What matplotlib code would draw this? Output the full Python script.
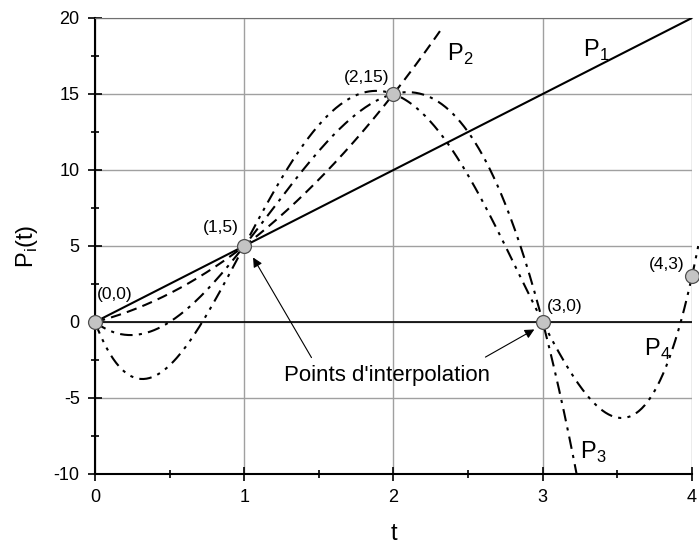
import numpy as np
import matplotlib.pyplot as plt

plt.rcParams['font.family'] = ['Liberation Sans', 'DejaVu Sans']
plt.rcParams['axes.unicode_minus'] = False
plt.rcParams['mathtext.fontset'] = 'custom'
plt.rcParams['mathtext.rm'] = 'Liberation Sans'

# interpolation nodes
t_pts = [0, 1, 2, 3, 4]
p_pts = [0, 5, 15, 0, 3]
node_labels = ['(0,0)', '(1,5)', '(2,15)', '(3,0)', '(4,3)']
# drawn range of each polynomial P1..P4
t_ends = [4.0, 2.32, 3.3, 4.05]
styles = ['-', (0, (5, 3)), (0, (6, 3, 1.5, 3)), (0, (6, 3, 1.5, 3, 1.5, 3))]

fig = plt.figure(figsize=(6.99, 5.45), dpi=100)
ax = fig.add_axes([0.1359, 0.1303, 0.854, 0.8367])

for k in range(1, 5):
    coef = np.polyfit(t_pts[:k + 1], p_pts[:k + 1], k)
    tt = np.linspace(0, t_ends[k - 1], 400)
    ax.plot(tt, np.polyval(coef, tt), color='black', lw=1.5,
            linestyle=styles[k - 1], clip_on=(k != 4), zorder=3)

ax.axhline(0, color='black', lw=1.2, zorder=2)
ax.plot(t_pts, p_pts, 'o', ms=10, mfc='#c4c4c4', mec='#505050', mew=0.9,
        clip_on=False, zorder=5)

# node labels
lab_pos = [(0.134, 1.8), (0.845, 6.2), (1.82, 16.1), (3.15, 1.05), (3.83, 3.75)]
for (x, y), s in zip(lab_pos, node_labels):
    ax.text(x, y, s, fontsize=12.5, ha='center', va='center')

# polynomial names
ax.text(2.36, 17.6, r'P$_{\mathregular{2}}$', fontsize=17, ha='left', va='center')
ax.text(3.27, 17.9, r'P$_{\mathregular{1}}$', fontsize=17, ha='left', va='center')
ax.text(3.25, -8.6, r'P$_{\mathregular{3}}$', fontsize=17, ha='left', va='center')
ax.text(3.68, -1.8, r'P$_{\mathregular{4}}$', fontsize=17, ha='left', va='center')

ax.text(1.96, -3.5, "Points d'interpolation", fontsize=16, ha='center', va='center')
ax.annotate('', xy=(1.05, 4.4), xytext=(1.46, -2.5),
            arrowprops=dict(arrowstyle='-|>', color='black', lw=0.8,
                            mutation_scale=14))
ax.annotate('', xy=(2.96, -0.4), xytext=(2.6, -2.4),
            arrowprops=dict(arrowstyle='-|>', color='black', lw=0.8,
                            mutation_scale=14))

ax.set_xlim(0, 4)
ax.set_ylim(-10, 20)
ax.set_xticks([0, 1, 2, 3, 4])
ax.set_xticks([0.5, 1.5, 2.5, 3.5], minor=True)
ax.set_yticks([-10, -5, 0, 5, 10, 15, 20])
ax.set_yticks([-7.5, -2.5, 2.5, 7.5, 12.5, 17.5], minor=True)
ax.tick_params(which='major', direction='inout', length=10, width=1.2,
               labelsize=13, pad=6)
ax.tick_params(which='minor', direction='inout', length=6, width=1.2)
ax.grid(True, which='major', color='#a0a0a0', lw=1)

ax.spines['right'].set_visible(False)
ax.spines['top'].set_color('#707070')
ax.spines['left'].set_linewidth(1.5)
ax.spines['bottom'].set_linewidth(1.5)

ax.set_xlabel('t', fontsize=17, labelpad=12)
ax.set_ylabel(r'P$_{\mathregular{i}}$(t)', fontsize=17, labelpad=10)

fig.savefig('out.png', dpi=100)
